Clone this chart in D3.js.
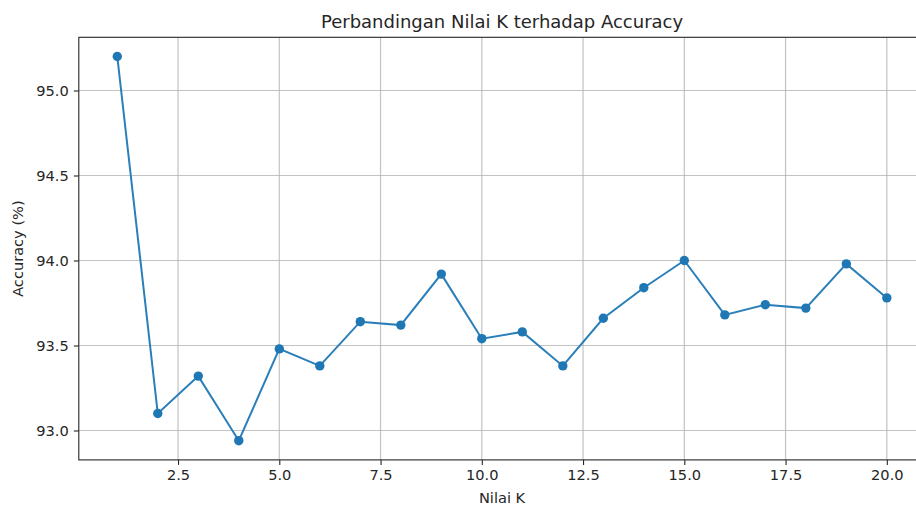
<!DOCTYPE html>
<html>
<head>
<meta charset="utf-8">
<script src="https://cdn.jsdelivr.net/npm/d3@7"></script>
<style>
  body { margin: 0; background: #fff; }
  text { font-family: "DejaVu Sans", sans-serif; fill: #262626; }
</style>
</head>
<body>
<script>
const width = 916, height = 506;

// data
const kValues = [1,2,3,4,5,6,7,8,9,10,11,12,13,14,15,16,17,18,19,20];
const accuracy = [95.2,93.1,93.32,92.94,93.48,93.38,93.64,93.62,93.92,93.54,93.58,93.38,93.66,93.84,94.0,93.68,93.74,93.72,93.98,93.78];
const xTicks = [2.5,5,7.5,10,12.5,15,17.5,20];
const yTicks = [93,93.5,94,94.5,95];

// plot box (right spine sits just outside the crop)
const padL = 78.8, padR = 925.3, padT = 37.3, padB = 459.9;

let svg = d3.select('body').append('svg')
  .attr('width', width).attr('height', height);

const x = d3.scaleLinear().domain([0.05, 20.95]).range([padL, padR]);
const y = d3.scaleLinear().domain([92.827, 95.313]).range([padB, padT]);

// grid
svg.append('g').selectAll('line').data(xTicks).enter().append('line')
  .attr('x1', d => x(d)).attr('x2', d => x(d))
  .attr('y1', padT).attr('y2', padB)
  .style('stroke', '#b0b0b0').style('stroke-width', 1.2).style('opacity', 0.75);
svg.append('g').selectAll('line').data(yTicks).enter().append('line')
  .attr('x1', padL).attr('x2', padR)
  .attr('y1', d => y(d)).attr('y2', d => y(d))
  .style('stroke', '#b0b0b0').style('stroke-width', 1.2).style('opacity', 0.75);

// axes
let xAxis = d3.axisBottom(x).tickValues(xTicks).tickFormat(d3.format('.1f'))
  .tickSizeInner(5).tickSizeOuter(0).tickPadding(5);
let yAxis = d3.axisLeft(y).tickValues(yTicks).tickFormat(d3.format('.1f'))
  .tickSizeInner(5).tickSizeOuter(0).tickPadding(5);

let gx = svg.append('g').attr('transform', `translate(0,${padB})`).call(xAxis);
let gy = svg.append('g').attr('transform', `translate(${padL},0)`).call(yAxis);
[gx, gy].forEach(g => {
  g.select('.domain').remove();
  g.selectAll('line').style('stroke', '#262626').style('stroke-width', 1.1);
  g.selectAll('text').style('font-size', '14.6px').style('fill', '#262626')
    .style('font-family', '"DejaVu Sans", sans-serif');
});

// spines
svg.append('rect')
  .attr('x', padL).attr('y', padT)
  .attr('width', padR - padL).attr('height', padB - padT)
  .style('fill', 'none').style('stroke', '#262626').style('stroke-width', 1.1);

// line + markers
const pts = kValues.map((k, i) => [k, accuracy[i]]);
svg.append('path').datum(pts)
  .attr('d', d3.line().x(d => x(d[0])).y(d => y(d[1])))
  .style('fill', 'none').style('stroke', '#2a7fba').style('stroke-width', 2);
svg.append('g').selectAll('circle').data(pts).enter().append('circle')
  .attr('cx', d => x(d[0])).attr('cy', d => y(d[1])).attr('r', 4.7)
  .style('fill', '#1f77b4');

// title and labels
svg.append('text').text('Perbandingan Nilai K terhadap Accuracy')
  .attr('x', (padL + padR) / 2).attr('y', 28)
  .attr('text-anchor', 'middle').style('font-size', '18px');
svg.append('text').text('Nilai K')
  .attr('x', (padL + padR) / 2).attr('y', 503)
  .attr('text-anchor', 'middle').style('font-size', '14.6px');
svg.append('text').text('Accuracy (%)')
  .attr('transform', `translate(23,${(padT + padB) / 2}) rotate(-90)`)
  .attr('text-anchor', 'middle').style('font-size', '14.6px');
</script>
</body>
</html>
